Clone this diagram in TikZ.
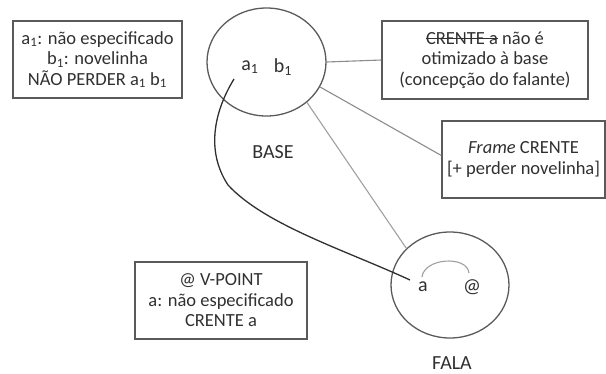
\documentclass[tikz,border=0pt]{standalone}
\usepackage{fontspec}
\setmainfont{Carlito}
\usetikzlibrary{shapes.geometric}
\definecolor{txt}{HTML}{303030}
\definecolor{edge}{HTML}{5A5A5A}
\definecolor{lgray}{HTML}{8C8C8C}
\definecolor{llgray}{HTML}{A0A0A0}
\newsavebox{\strkbox}
\newcommand{\mystrike}[1]{\sbox{\strkbox}{#1}\rlap{\usebox{\strkbox}}\rule[0.27em]{\wd\strkbox}{0.07em}}
\tikzset{
  infobox/.style={draw=edge, line width=1.3pt, rectangle, align=center, text=txt,
    inner sep=0pt, font=\fontsize{18.5}{20.5}\selectfont},
  bubble/.style={draw=edge, line width=1.3pt, ellipse, inner sep=0pt},
  biglbl/.style={text=txt, inner sep=0pt, font=\fontsize{20}{22}\selectfont},
  link/.style={draw=lgray, line width=1.1pt},
  flink/.style={draw=llgray, line width=1.1pt},
  curve/.style={draw=txt, line width=1.3pt},
}
\begin{document}
\begin{tikzpicture}[x=1pt,y=-1pt]
\useasboundingbox (0,0) rectangle (606,373);
% boxes
\node[infobox, minimum width=169pt, minimum height=77pt] (box1) at (97.5,59.5)
  {a\textsubscript{1}: não especificado\\ b\textsubscript{1}: novelinha\\ NÃO PERDER a\textsubscript{1} b\textsubscript{1}};
\node[infobox, minimum width=206pt, minimum height=78pt] (box2) at (485,60)
  {\mystrike{CRENTE a} não é\\ otimizado à base\\ (concepção do falante)};
\node[infobox, minimum width=163pt, minimum height=77pt] (box3) at (523.5,159.5)
  {\textit{Frame} CRENTE\\ {[}+ perder novelinha{]}};
\node[infobox, minimum width=172pt, minimum height=77pt] (box4) at (221,300.5)
  {@ V-POINT\\ a: não especificado\\ CRENTE a};
% bubbles
\node[bubble, minimum width=119pt, minimum height=108pt] (base) at (266.5,62) {};
\node[bubble, minimum width=118pt, minimum height=106pt] (fala) at (450,285) {};
% texts
\node[biglbl] (a1) at (250,67) {a\textsubscript{1}};
\node[biglbl] (b1) at (283,67) {b\textsubscript{1}};
\node[biglbl] (baselbl) at (273,152) {BASE};
\node[biglbl] (fa) at (423,287) {a};
\node[biglbl] (fat) at (472,287) {@};
\node[biglbl] (falalbl) at (452,363) {FALA};
% connectors
\draw[link] (base.east) -- (box2.west);
\draw[link] (base.-25) -- ([yshift=4pt]box3.west);
\draw[flink] (base.-45) -- (fala.140);
\coordinate (cstart) at (234,79);
\coordinate (cend) at (410,280);
\draw[curve] (cstart) .. controls (215,110) and (205,150) .. (228,185)
  .. controls (265,225) and (345,250) .. (cend);
\draw[flink] ([shift={(-1,-10)}]fa.center) .. controls ([shift={(1,-29)}]fa.center) and ([shift={(-5,-32)}]fat.center) .. ([shift={(-3,-14)}]fat.center);
\end{tikzpicture}
\end{document}
